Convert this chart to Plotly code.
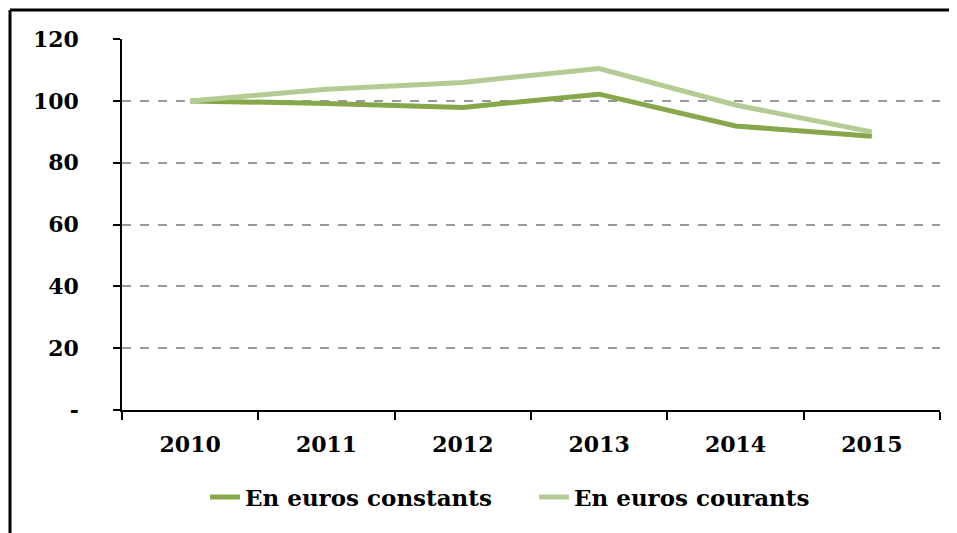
import plotly.graph_objects as go

years = ["2010", "2011", "2012", "2013", "2014", "2015"]
constants = [100, 99.2, 97.9, 102.2, 91.9, 88.6]
courants = [100, 103.8, 106.0, 110.5, 98.7, 90.0]
y_ticks = [0, 20, 40, 60, 80, 100, 120]
y_labels = ["-", "20", "40", "60", "80", "100", "120"]

FONT = dict(family="DejaVu Serif", size=22, color="black", weight="bold")

fig = go.Figure()
fig.add_trace(go.Scatter(x=years, y=constants, mode="lines", name="En euros constants",
                         line=dict(color="#86A74A", width=5)))
fig.add_trace(go.Scatter(x=years, y=courants, mode="lines", name="En euros courants",
                         line=dict(color="#B3CC93", width=5)))

# page has an 8px body margin: figure coords = screen coords - 8
W, H = 949, 525
L, T = 114, 31
pw, ph = 818, 371
R, B = W - L - pw, H - T - ph

def px(sx):
    return (sx - 8 - L) / pw

def py(sy):
    return (T + ph - (sy - 8)) / ph

fig.update_layout(
    width=W, height=H,
    margin=dict(l=L, r=R, t=T, b=B),
    paper_bgcolor="white", plot_bgcolor="white",
    font=FONT,
    showlegend=True,
    legend=dict(orientation="h", x=px(205), xanchor="left",
                y=py(497), yanchor="middle",
                font=dict(family="DejaVu Serif", size=23, color="black", weight="bold"),
                itemwidth=30, tracegroupgap=0, entrywidth=284),
    xaxis=dict(type="category", range=[-0.5, 5.5], tickson="boundaries",
               ticks="outside", ticklen=8, automargin=False,
               tickcolor="black", tickwidth=1.5, showline=True, linecolor="black",
               linewidth=1.5, showgrid=False, ticklabelstandoff=14,
               tickfont=FONT),
    yaxis=dict(range=[0, 120.05], tickvals=y_ticks, ticktext=y_labels, ticks="outside",
               ticklen=7, tickcolor="black", tickwidth=1.5, showline=True,
               automargin=False,
               linecolor="black", linewidth=1.5, showgrid=True, gridcolor="#999999",
               griddash="dash", gridwidth=1.5, zeroline=False, ticklabelstandoff=30,
               tickfont=FONT),
    shapes=[
        dict(type="line", xref="paper", yref="paper",
             x0=px(10), x1=px(970), y0=py(10), y1=py(10),
             line=dict(color="black", width=3)),
        dict(type="line", xref="paper", yref="paper",
             x0=px(10), x1=px(10), y0=py(10), y1=py(560),
             line=dict(color="black", width=3)),
    ],
)

fig.write_html("out.html")
